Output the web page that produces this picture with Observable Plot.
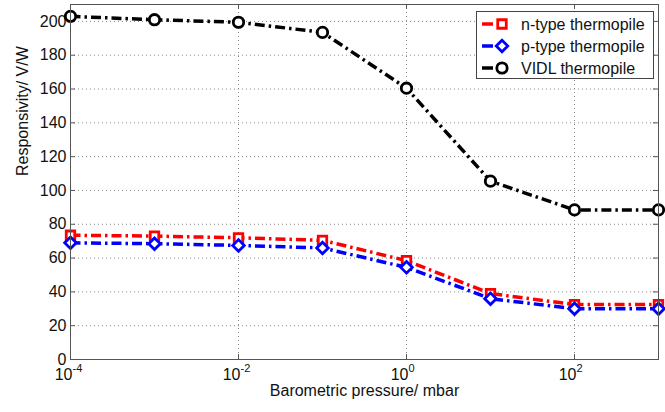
<!DOCTYPE html>
<html>
<head>
<meta charset="utf-8">
<script src="https://cdn.jsdelivr.net/npm/d3@7"></script>
<script src="https://cdn.jsdelivr.net/npm/@observablehq/plot@0.6"></script>
<style>
  html, body { margin: 0; padding: 0; background: #fff; }
  #wrap { position: relative; width: 665px; height: 412px; font-family: "Liberation Sans", Arial, sans-serif; }
  #legend { position: absolute; left: 476px; top: 11px; width: 178px; height: 68px; border: 1px solid #444; background: #fff; box-sizing: border-box; }
</style>
</head>
<body>
<div id="wrap"></div>
<script>
// ---- data ----
const pressure = [1e-4, 1e-3, 1e-2, 1e-1, 1, 10, 100, 1000];
const nType = [73.5, 73, 72, 70.5, 58.5, 39, 32.5, 32.5];
const pType = [69, 68.5, 67.5, 66, 54.5, 36, 30, 30];
const vidl = [203, 201, 199.5, 193.5, 160.5, 105.5, 88.5, 88.5];
const seriesNames = ["n-type thermopile", "p-type thermopile", "VIDL thermopile"];
const seriesValues = [nType, pType, vidl];
const seriesColors = ["#ff0000", "#0000ff", "#000000"];
const seriesSymbols = ["square", "diamond2", "circle"];
const yTicks = [0, 20, 40, 60, 80, 100, 120, 140, 160, 180, 200];
const xTickExponents = [-4, -2, 0, 2];
const xTitle = "Barometric pressure/ mbar";
const yTitle = "Responsivity/ V/W";

const W = 665, H = 412;
const mL = 70, mR = 7, mT = 4, mB = 53;
const frameW = W - mL - mR, frameH = H - mT - mB;
const dash = "10,4,2.5,4";
const symR = {square: 4.8, diamond2: 5.2, circle: 5.2};

const xTickVals = xTickExponents.map(e => 10 ** e);

const marks = [
  Plot.gridY(yTicks.filter(d => d > 0), {stroke: "#888", strokeOpacity: 1, strokeDasharray: "1,3", strokeWidth: 1}),
  Plot.gridX(xTickVals.filter(d => d > 1e-4), {stroke: "#888", strokeOpacity: 1, strokeDasharray: "1,3", strokeWidth: 1}),
  // inward ticks (Matlab style)
  Plot.tickY(yTicks, {y: d => d, insetRight: frameW - 5, stroke: "#555"}),
  Plot.tickY(yTicks, {y: d => d, insetLeft: frameW - 5, stroke: "#555"}),
  Plot.tickX(xTickVals, {x: d => d, insetTop: frameH - 5, stroke: "#555"}),
  Plot.tickX(xTickVals, {x: d => d, insetBottom: frameH - 5, stroke: "#555"}),
  Plot.axisY(yTicks, {tickSize: 0, tickPadding: 4, label: null, fontSize: 16}),
  // x tick labels 10^n
  Plot.text(xTickExponents, {x: d => 10 ** d, text: () => "10", frameAnchor: "bottom", textAnchor: "end", dx: 2, dy: 20, fontSize: 16}),
  Plot.text(xTickExponents, {x: d => 10 ** d, text: d => String(d), frameAnchor: "bottom", textAnchor: "start", dx: 2, dy: 12, fontSize: 11}),
  // axis titles
  Plot.text([xTitle], {text: d => d, frameAnchor: "bottom", dy: 36, fontSize: 16}),
  Plot.text([yTitle], {text: d => d, frameAnchor: "left", dx: -48, dy: -6, rotate: -90, fontSize: 16}),
];

seriesNames.forEach((name, s) => {
  const rows = pressure.map((p, i) => ({p, v: seriesValues[s][i]}));
  marks.push(Plot.line(rows, {x: "p", y: "v", stroke: seriesColors[s], strokeWidth: 3.5, strokeDasharray: dash, strokeLinecap: "butt", strokeLinejoin: "round"}));
  marks.push(Plot.dot(rows, {x: "p", y: "v", stroke: seriesColors[s], symbol: seriesSymbols[s], r: symR[seriesSymbols[s]], fill: "white", strokeWidth: 2.8}));
});

marks.push(Plot.frame({stroke: "#555", strokeWidth: 1}));

const chart = Plot.plot({
  width: W, height: H,
  marginLeft: mL, marginRight: mR, marginTop: mT, marginBottom: mB,
  style: {fontFamily: "'Liberation Sans', Arial, sans-serif", fontSize: "16px", color: "#111", background: "white"},
  x: {type: "log", domain: [1e-4, 1e3], axis: null},
  y: {domain: [0, 210], axis: null},
  marks
});

const wrap = document.getElementById("wrap");
wrap.appendChild(chart);

// legend
const leg = d3.select(wrap).append("div").attr("id", "legend");
const lsvg = leg.append("svg").attr("width", 176).attr("height", 66).style("position", "absolute").style("left", 0).style("top", 0);
seriesNames.forEach((name, s) => {
  const cy = 12 + s * 22;
  const g = lsvg.append("g");
  g.append("line").attr("x1", 5).attr("x2", 42).attr("y1", cy).attr("y2", cy)
    .attr("stroke", seriesColors[s]).attr("stroke-width", 3.5).attr("stroke-dasharray", "11,5,2.5,3,2.5,20");
  const sym = {square: d3.symbolSquare, diamond2: d3.symbolDiamond2, circle: d3.symbolCircle}[seriesSymbols[s]];
  const r = symR[seriesSymbols[s]];
  g.append("path").attr("d", d3.symbol(sym, Math.PI * r * r)()).attr("transform", `translate(25,${cy})`)
    .attr("fill", "white").attr("stroke", seriesColors[s]).attr("stroke-width", 2.8);
  g.append("text").attr("x", 44).attr("y", cy).attr("dy", "0.35em")
    .attr("font-family", "'Liberation Sans', Arial, sans-serif").attr("font-size", 16).attr("fill", "#111").text(name);
});
</script>
</body>
</html>
